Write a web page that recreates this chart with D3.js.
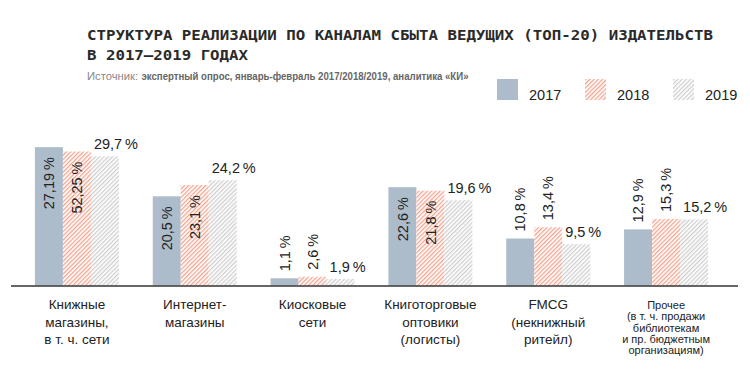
<!DOCTYPE html>
<html>
<head>
<meta charset="utf-8">
<script src="https://cdn.jsdelivr.net/npm/d3@7"></script>
<style>
    body { margin: 0; background: #fff; }
    svg text { font-family: "Liberation Sans", Arial, sans-serif; fill: #222; }
</style>
</head>
<body>
<div id="chart"></div>
<script>
// Chart data
var years = ["2017", "2018", "2019"];
var categories = ["books", "internet", "kiosk", "wholesale", "fmcg", "other"];
var categoryLines = [
    ["Книжные", "магазины,", "в т. ч. сети"],
    ["Интернет-", "магазины"],
    ["Киосковые", "сети"],
    ["Книготорговые", "оптовики", "(логисты)"],
    ["FMCG", "(некнижный", "ритейл)"],
    ["Прочее", "(в т. ч. продажи", "библиотекам", "и пр. бюджетным", "организациям)"]
];
// bar heights as drawn in the picture (%)
var values2017 = [31.8, 20.5, 1.65, 22.6, 10.8, 12.9];
var values2018 = [30.8, 23.1, 2.0, 21.8, 13.4, 15.3];
var values2019 = [29.7, 24.2, 1.5, 19.6, 9.5, 15.2];
// printed labels (as they appear in the source)
var labels2017 = ["27,19", "20,5", "1,1", "22,6", "10,8", "12,9"];
var labels2018 = ["52,25", "23,1", "2,6", "21,8", "13,4", "15,3"];
var labels2019 = ["29,7", "24,2", "1,9", "19,6", "9,5", "15,2"];

var seriesValues = [values2017, values2018, values2019];
var seriesLabels = [labels2017, labels2018, labels2019];

var width = 750, height = 375;
var svg = d3.select("#chart").append("svg")
    .attr("width", width)
    .attr("height", height);

// Patterns for hatched bars
var defs = svg.append("defs");
function hatch(id, color) {
    var p = defs.append("pattern")
        .attr("id", id)
        .attr("patternUnits", "userSpaceOnUse")
        .attr("width", 3).attr("height", 3)
        .attr("patternTransform", "rotate(45)");
    p.append("rect").attr("width", 3).attr("height", 3).attr("fill", "#fff");
    p.append("rect").attr("width", 1.3).attr("height", 3).attr("fill", color);
}
hatch("hatch2018", "#f3a58f");
hatch("hatch2019", "#cfcfcf");
var fills = ["#adbccb", "url(#hatch2018)", "url(#hatch2019)"];

// Title
var title = svg.append("g").attr("class", "title");
title.append("text")
    .attr("x", 87).attr("y", 40)
    .attr("textLength", 626).attr("lengthAdjust", "spacingAndGlyphs")
    .style("font-family", "'DejaVu Sans Mono', monospace")
    .style("font-weight", "bold").style("font-size", "14.5px")
    .style("fill", "#2a2a2a")
    .text("СТРУКТУРА РЕАЛИЗАЦИИ ПО КАНАЛАМ СБЫТА ВЕДУЩИХ (ТОП-20) ИЗДАТЕЛЬСТВ");
title.append("text")
    .attr("x", 87).attr("y", 59.5)
    .attr("textLength", 161).attr("lengthAdjust", "spacingAndGlyphs")
    .style("font-family", "'DejaVu Sans Mono', monospace")
    .style("font-weight", "bold").style("font-size", "14.5px")
    .style("fill", "#2a2a2a")
    .text("В 2017–2019 ГОДАХ");

// Source line (two pieces, squeezed to the condensed width of the original)
svg.append("text")
    .attr("x", 87).attr("y", 80)
    .attr("textLength", 51).attr("lengthAdjust", "spacingAndGlyphs")
    .style("font-size", "11.5px").style("fill", "#888")
    .text("Источник:");
svg.append("text")
    .attr("x", 141.5).attr("y", 80)
    .attr("textLength", 327).attr("lengthAdjust", "spacingAndGlyphs")
    .style("font-size", "11.5px").style("fill", "#666").style("font-weight", "bold")
    .text("экспертный опрос, январь-февраль 2017/2018/2019, аналитика «КИ»");

// Legend
var legend = svg.append("g").selectAll("g")
    .data(years)
    .join("g")
    .attr("transform", function (d, i) { return "translate(" + (497 + i * 88) + ",79)"; });
legend.append("rect")
    .attr("width", 21).attr("height", 21)
    .attr("fill", function (d, i) { return fills[i]; });
legend.append("text")
    .attr("x", 32).attr("y", 21)
    .style("font-size", "14.5px")
    .text(function (d) { return d; });

// Scales
var x0 = d3.scaleBand()
    .domain(categories)
    .range([18, 725])
    .paddingInner(0.287)
    .paddingOuter(0.1435);
var x1 = d3.scaleBand()
    .domain(years)
    .range([0, x0.bandwidth()]);
var y = d3.scaleLinear()
    .domain([0, 40])
    .range([285.5, 285.5 - 174]);

// Bars
var groups = svg.append("g").selectAll("g")
    .data(categories)
    .join("g")
    .attr("transform", function (d) { return "translate(" + x0(d) + ",0)"; });

var cells = groups.selectAll("g")
    .data(function (d, ci) {
        return years.map(function (yr, yi) {
            return { year: yr, yi: yi, value: seriesValues[yi][ci], label: seriesLabels[yi][ci] };
        });
    })
    .join("g");

cells.append("rect")
    .attr("x", function (d) { return x1(d.year); })
    .attr("y", function (d) { return y(d.value); })
    .attr("width", x1.bandwidth())
    .attr("height", function (d) { return y(0) - y(d.value); })
    .attr("fill", function (d) { return fills[d.yi]; });

// Value labels
cells.append("text")
    .style("font-size", "14.5px")
    .each(function (d) {
        var t = d3.select(this);
        var cx = x1(d.year) + x1.bandwidth() / 2;
        t.text(d.label + "\u2009%");
        if (d.yi === 2) {
            t.attr("x", x1(d.year) + 3).attr("y", y(d.value) - 7);
        } else if (d.value > 17) {
            // inside the bar, reading upward
            t.attr("text-anchor", "end")
                .attr("dy", "0.36em")
                .attr("transform", "translate(" + cx + "," + (y(d.value) + 10) + ") rotate(-90)");
        } else {
            t.attr("text-anchor", "start")
                .attr("dy", "0.36em")
                .attr("transform", "translate(" + cx + "," + (y(d.value) - 7) + ") rotate(-90)");
        }
    });

// Baseline
svg.append("line")
    .attr("x1", 11).attr("x2", 738)
    .attr("y1", y(0) + 0.5).attr("y2", y(0) + 0.5)
    .attr("stroke", "#333").attr("stroke-width", 1.5);

// Category labels
svg.append("g").selectAll("text")
    .data(categories)
    .join("text")
    .attr("text-anchor", "middle")
    .style("font-size", function (d, i) { return i === 5 ? "11px" : "13.5px"; })
    .each(function (d, i) {
        var t = d3.select(this);
        var cx = x0(d) + x0.bandwidth() / 2;
        var step = i === 5 ? 11.3 : 17.5;
        categoryLines[i].forEach(function (line, k) {
            t.append("tspan")
                .attr("x", cx)
                .attr("y", 309 + k * step)
                .text(line);
        });
    });
</script>
</body>
</html>
